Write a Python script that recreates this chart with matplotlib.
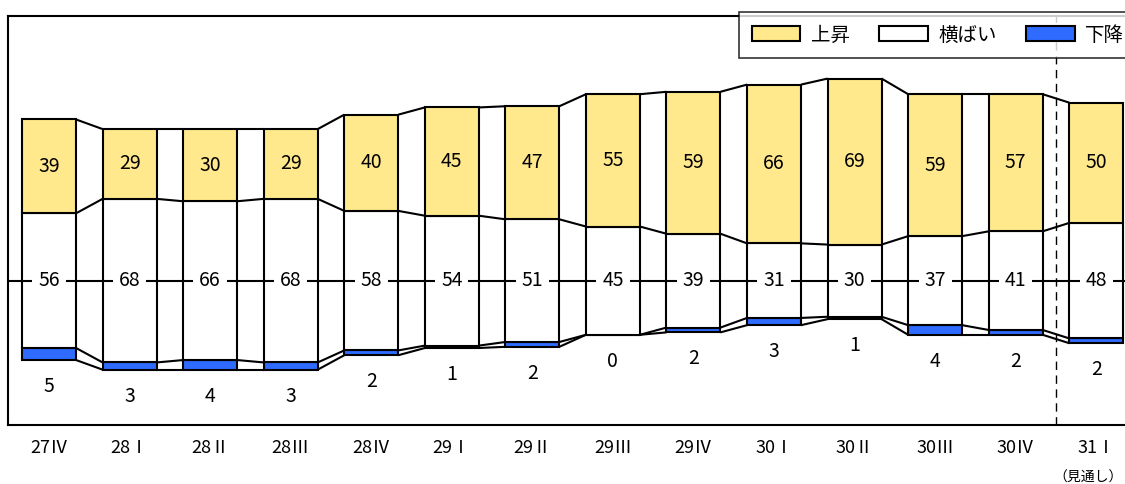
import matplotlib
matplotlib.use('Agg')
from matplotlib import pyplot as plt
from matplotlib.patches import Patch

plt.rcParams['font.family'] = ['Noto Sans CJK JP', 'DejaVu Sans']

quarters = ['27Ⅳ', '28Ⅰ', '28Ⅱ', '28Ⅲ', '28Ⅳ', '29Ⅰ', '29Ⅱ',
            '29Ⅲ', '29Ⅳ', '30Ⅰ', '30Ⅱ', '30Ⅲ', '30Ⅳ', '31Ⅰ']
up = [39, 29, 30, 29, 40, 45, 47, 55, 59, 66, 69, 59, 57, 50]
flat = [56, 68, 66, 68, 58, 54, 51, 45, 39, 31, 30, 37, 41, 48]
down = [5, 3, 4, 3, 2, 1, 2, 0, 2, 3, 1, 4, 2, 2]

yellow = '#FFE98C'
blue = '#2F6BFF'
w = 0.67

fig = plt.figure(figsize=(11.25, 4.84), dpi=100)
ax = fig.add_axes([0.0071, 0.1219, 1.006, 0.845])

xs = list(range(len(quarters)))
# each bar is placed so the middle of the "flat" part sits on zero
bottoms = [-(d + f / 2) for d, f in zip(down, flat)]
b_flat = [b + d for b, d in zip(bottoms, down)]
b_up = [b + f for b, f in zip(b_flat, flat)]
tops = [b + u for b, u in zip(b_up, up)]

ax.bar(xs, down, w, bottom=bottoms, color=blue, edgecolor='black', lw=1.5, zorder=2)
ax.bar(xs, flat, w, bottom=b_flat, color='white', edgecolor='black', lw=1.5, zorder=2)
ax.bar(xs, up, w, bottom=b_up, color=yellow, edgecolor='black', lw=1.5, zorder=2)

# connecting lines between neighbouring bars
for level in (bottoms, b_flat, b_up, tops):
    for i in range(len(xs) - 1):
        ax.plot([xs[i] + w / 2, xs[i + 1] - w / 2], [level[i], level[i + 1]],
                color='black', lw=1.5, zorder=3, solid_capstyle='butt')

ax.axhline(0, color='black', lw=1.5, zorder=3)
ax.axvline(12.5, color='black', lw=1, ls=(0, (6, 4)), zorder=3)

for i in xs:
    ax.text(xs[i], b_up[i] + up[i] / 2, str(up[i]), ha='center', va='center',
            fontsize=14, zorder=5)
    ax.text(xs[i], 0, str(flat[i]), ha='center', va='center', fontsize=14, zorder=5,
            bbox=dict(boxstyle='square,pad=0.3', fc='white', ec='none'))
    ax.text(xs[i], bottoms[i] - 11, str(down[i]), ha='center', va='center',
            fontsize=14, zorder=5)

ax.set_xlim(-0.51, 13.54)
ax.set_ylim(-60, 110)
ax.set_yticks([])
ax.set_xticks(xs)
ax.set_xticklabels(quarters, fontsize=13)
ax.tick_params(axis='x', length=0, pad=10)
for s in ax.spines.values():
    s.set_linewidth(1.5)

ax.text(13.33, -82, '（見通し）', ha='right', va='center', fontsize=10)

handles = [Patch(fc=yellow, ec='black', lw=1.5, label='上昇'),
           Patch(fc='white', ec='black', lw=1.5, label='横ばい'),
           Patch(fc=blue, ec='black', lw=1.5, label='下降')]
leg = fig.legend(handles=handles, loc='upper left', bbox_to_anchor=(739 / 1125, 1 - 12 / 484),
                 ncol=3, fontsize=14, frameon=True, fancybox=False, edgecolor='black',
                 handlelength=2.5, handleheight=0.82, handletextpad=0.55,
                 columnspacing=1.5, borderpad=0.65, borderaxespad=0)
leg.get_frame().set_linewidth(1.2)
leg.set_zorder(10)

fig.savefig('out.png', dpi=100)
